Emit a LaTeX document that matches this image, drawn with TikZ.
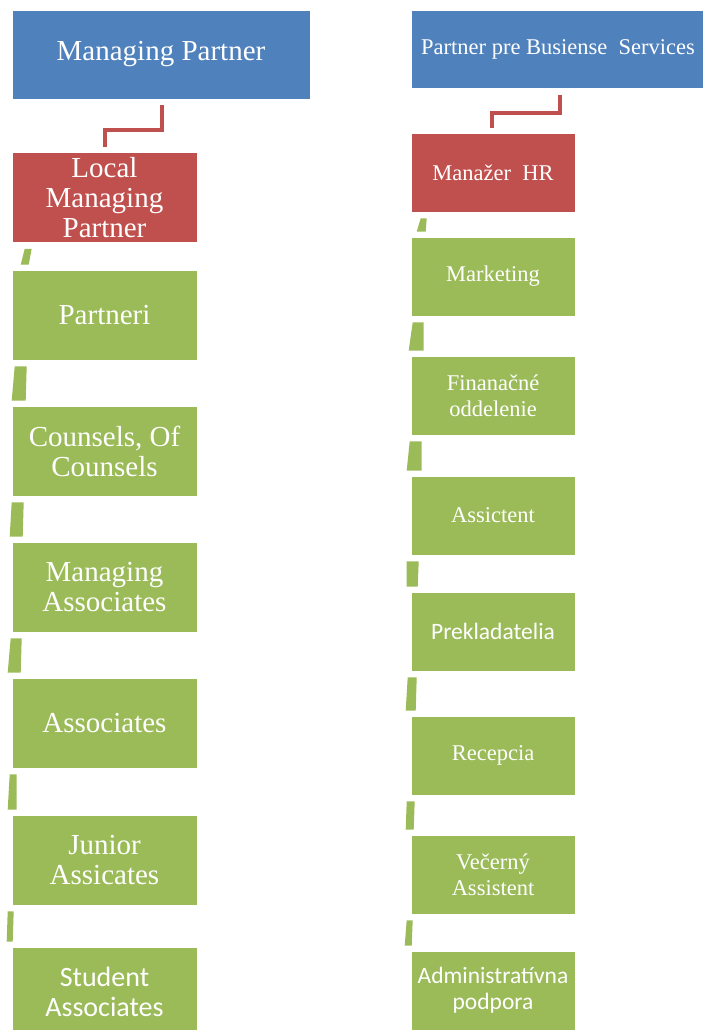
\documentclass[tikz,border=0pt]{standalone}
\usepackage{fontspec}
\setmainfont{LiberationSerif}[Extension=.ttf, UprightFont=*-Regular, BoldFont=*-Bold]
\newfontfamily\calibri{Carlito}
\usetikzlibrary{calc}
\definecolor{topblue}{HTML}{4F81BD}
\definecolor{headred}{HTML}{C0504D}
\definecolor{unitgreen}{HTML}{9BBB59}
\tikzset{
  box/.style={draw=white, line width=0.6pt, text=white, align=center, inner sep=0pt},
  topbox/.style={box, fill=topblue},
  headbox/.style={box, fill=headred},
  unitbox/.style={box, fill=unitgreen},
  leftcol/.style={minimum width=185pt, minimum height=90pt, font=\fontsize{29}{30}\selectfont},
  rightcol/.style={minimum width=164pt, minimum height=79pt, font=\fontsize{22.5}{26}\selectfont},
  elbow/.style={headred, line width=4pt, line join=miter}
}
% green stub between two stacked boxes: upper, lower, top-left, top-right, bottom-left, bottom-right
\newcommand{\stub}[6]{%
  \fill[unitgreen] ($(#1.south west)+(#3,6)$) -- ($(#1.south west)+(#4,6)$)
    -- ($(#2.north west)+(#6,-5)$) -- ($(#2.north west)+(#5,-5)$) -- cycle;}

\begin{document}
\begin{tikzpicture}[x=1pt,y=-1pt]
  \useasboundingbox (0,0) rectangle (703,1030);

  % left column
  \node[topbox, minimum width=298pt, minimum height=89pt, font=\fontsize{29}{30}\selectfont] (mp) at (161,54.5) {Managing Partner};
  \node[headbox, leftcol] (lmp) at (104.5,197.5) {Local\\Managing\\Partner};
  \node[unitbox, leftcol] (par) at (104.5,315) {Partneri};
  \node[unitbox, leftcol] (cou) at (104.5,451) {Counsels, Of\\Counsels};
  \node[unitbox, leftcol] (mas) at (104.5,587) {Managing\\Associates};
  \node[unitbox, leftcol] (ass) at (104.5,723) {Associates};
  \node[unitbox, leftcol] (jun) at (104.5,860) {Junior\\Assicates};
  \node[unitbox, leftcol, font=\calibri\fontsize{28}{30}\selectfont] (stu) at (104.5,992) {Student\\Associates};

  \draw[elbow] ($(mp.south)+(1,6)$) -- ++(0,25) -| ($(lmp.north)+(0,-5)$);
  \stub{lmp}{par}{13}{20}{9}{17}
  \stub{par}{cou}{3}{15}{0}{14}
  \stub{cou}{mas}{0}{12}{-2}{11}
  \stub{mas}{ass}{-1}{10}{-4}{9}
  \stub{ass}{jun}{-2}{5}{-4}{5}
  \stub{jun}{stu}{-4}{2}{-5}{1}

  % right column
  \node[topbox, minimum width=294pt, minimum height=78pt, font=\fontsize{22.5}{26}\selectfont] (pbs) at (558,49) {Partner pre Busiense~ Services};
  \node[headbox, rightcol] (hr) at (493,172.5) {Manažer~ HR};
  \node[unitbox, rightcol] (mkt) at (493,276.5) {Marketing};
  \node[unitbox, rightcol] (fin) at (493,395.5) {Finanačné\\oddelenie};
  \node[unitbox, rightcol] (asi) at (493,515.5) {Assictent};
  \node[unitbox, rightcol, font=\calibri\fontsize{23.5}{26}\selectfont] (pre) at (493,631.5) {Prekladatelia};
  \node[unitbox, rightcol] (rec) at (493,755.5) {Recepcia};
  \node[unitbox, rightcol] (vec) at (493,874.5) {Večerný\\Assistent};
  \node[unitbox, rightcol, font=\calibri\fontsize{23.5}{26}\selectfont] (adm) at (493,990.5) {Administratívna\\podpora};

  \draw[elbow] ($(pbs.south)+(2,7)$) -- ++(0,18) -| ($(hr.north)+(-1,-5)$);
  \stub{hr}{mkt}{10}{16}{6}{15}
  \stub{mkt}{fin}{2}{13}{-2}{13}
  \stub{fin}{asi}{-1}{11}{-4}{11}
  \stub{asi}{pre}{-4}{8}{-4}{7}
  \stub{pre}{rec}{-3}{6}{-5}{5}
  \stub{rec}{vec}{-4}{4}{-5}{3}
  \stub{vec}{adm}{-4}{2}{-6}{1}
\end{tikzpicture}
\end{document}
